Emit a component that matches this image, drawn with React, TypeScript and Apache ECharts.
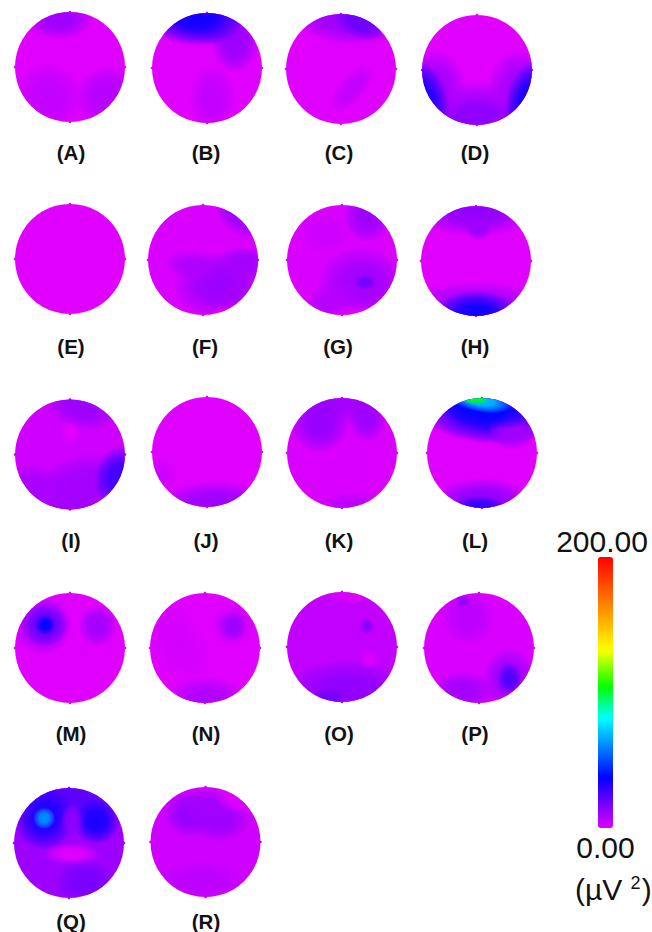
import React, { useEffect, useRef } from "react";
import * as echarts from "echarts";

const panelLabels = ["(A)","(B)","(C)","(D)","(E)","(F)","(G)","(H)","(I)","(J)","(K)","(L)","(M)","(N)","(O)","(P)","(Q)","(R)"];
// power at scalp position: each row is x, y (head units), spread x, spread y, rotation, µV²
const baseValues = [0,0,0,0,0,1,1,0,3,0,1,0,0,0,5,1,11,3];
const mapA = [[-0.2,0.88,0.62,0.38,0,11],[-0.4,-0.55,0.62,0.65,0,5],[0.65,-0.5,0.6,0.5,0.5,7]];
const mapB = [[0.2,0.8,0.9,0.42,-0.2,11],[0.5,0.42,0.42,0.5,0,11],[-0.25,1.0,0.95,0.6,-0.1,35],[0.1,-0.55,0.42,0.62,0,5]];
const mapC = [[0.05,0.9,1.0,0.45,-0.15,11],[0.35,0.85,0.5,0.3,-0.35,19],[0.2,-0.35,0.55,0.24,0.85,5]];
const mapD = [[0,-1.0,1.05,0.8,0,14],[-0.8,-0.25,0.6,0.6,0,10],[0.8,-0.25,0.6,0.6,0,10],[-1.0,-0.55,0.48,0.75,0.3,33],[1.0,-0.55,0.48,0.75,-0.3,35],[-0.15,0.3,0.25,0.25,0,0]];
const mapE = [] as number[][];
const mapF = [[0.3,-0.45,0.85,0.62,0,11],[0.75,-0.05,0.5,0.3,0,10],[-0.2,-0.1,0.5,0.28,-0.1,8],[0.7,0.85,0.55,0.4,-0.6,11],[0.5,-1.0,0.5,0.18,0,0]];
const mapG = [[0.35,-0.4,0.8,0.65,0,10],[-0.2,-0.75,0.5,0.35,0.5,7],[0.42,-0.4,0.2,0.14,0,18],[0.45,0.8,0.42,0.48,0,11],[-0.3,0.5,0.5,0.4,0,3],[0.25,-1.0,0.5,0.16,0,0]];
const mapH = [[0,0.95,1.15,0.5,0,13],[0.05,0.62,0.25,0.25,0,11],[0,-0.8,1.3,0.42,0,10],[0,-1.02,0.8,0.48,0,35]];
const mapI = [[0.2,0.85,0.65,0.38,-0.25,11],[0.2,-0.55,0.9,0.55,0.2,10],[-0.7,-0.65,0.6,0.5,0,9],[0.1,-1.0,0.7,0.35,0,10],[0.92,-0.42,0.48,0.58,-0.2,27],[0,0.4,0.2,0.2,0,0]];
const mapJ = [[0.15,-0.95,1.05,0.42,0,11],[-0.85,-0.4,0.3,0.3,0,3]];
const mapK = [[0,0.98,0.95,0.42,0,10],[-0.4,0.55,0.55,0.55,0,12],[0.45,0.65,0.36,0.45,0,11],[0.2,-1.0,0.7,0.3,0,6]];
const mapL = [[0.1,0.65,1.2,0.48,-0.08,30],[0.55,0.4,0.45,0.35,0,10],[-0.05,0.85,1.0,0.38,-0.2,38],[-0.05,0.97,0.6,0.22,-0.2,70],[-0.2,1.02,0.35,0.13,-0.2,104],[0,-0.95,0.95,0.5,0,14],[-0.05,-1.03,0.5,0.25,0,30]];
const mapM = [[-0.5,0.42,0.55,0.55,0,10],[-0.45,0.42,0.42,0.4,0,20],[-0.45,0.42,0.18,0.18,0,38],[0.5,0.4,0.35,0.38,0,10]];
const mapN = [[0.5,0.4,0.4,0.4,0,4],[0.5,0.4,0.26,0.26,0,11],[0,-0.95,0.72,0.45,0,8],[-0.5,0.1,0.5,0.9,0.5,2]];
const mapO = [[0.1,-0.8,1.15,0.58,0,13],[-0.25,-0.95,0.32,0.2,0,18],[0.45,0.38,0.14,0.14,0,14],[0.5,-0.22,0.18,0.18,0,1],[0.2,1.02,0.55,0.25,0,0]];
const mapP = [[0.55,-0.55,0.5,0.55,0,11],[0.55,-0.55,0.22,0.28,0,24],[-0.3,-0.8,0.6,0.38,0,10],[-0.2,0.55,0.5,0.5,0,6],[-0.3,0.85,0.14,0.12,0,12]];
const mapQ = [[0,0.85,1.0,0.45,0,22],[0.5,0.4,0.42,0.42,0,33],[-0.45,0.45,0.55,0.58,0,32],[-0.45,0.45,0.2,0.2,0,62],[0.05,-0.2,0.52,0.2,0,0],[0.05,0.4,0.2,0.32,0,14],[0.3,-0.7,0.55,0.4,0,17]];
const mapR = [[-0.3,0.5,0.45,0.42,0,12],[0.25,0.4,0.55,0.4,0,11],[0.05,0.65,0.55,0.3,0,10],[0.65,0.85,0.5,0.35,0,0],[-0.1,-0.7,0.8,0.35,0,6]];
const maps = [mapA,mapB,mapC,mapD,mapE,mapF,mapG,mapH,mapI,mapJ,mapK,mapL,mapM,mapN,mapO,mapP,mapQ,mapR];

const scaleMin = 0;
const scaleMax = 200;
const scaleStops = [0, 0.185, 0.406, 0.52, 0.657, 1];
const scaleColors = ["#e000ff", "#0000ff", "#00ffff", "#00ff00", "#ffff00", "#ff0000"];

// disc centres in pixels
const centresX = [70,207,341,477,70,203,342,476,70,207,342,482,70,205,342,479,69,205.5];
const centresY = [67,68,69,70,259,260,260,261,454.5,452,453,453,648,648,647,648,843,842];
const labelX = [71,206,339,475,71,205,338,475,71,206,339,475,71,206,339,475,71,206];
const labelY = [152,152,152,152,346,346,346,346,540,540,540,540,733,733,733,733,921,921];
const R = 55;

function buildPalette() {
  const out: string[] = [];
  const n = 80;
  for (let i = 0; i <= n; i++) {
    const t = i / n;
    let k = 0;
    while (k < scaleStops.length - 2 && t > scaleStops[k + 1]) k++;
    const f = (t - scaleStops[k]) / (scaleStops[k + 1] - scaleStops[k]);
    out.push(echarts.color.lerp(f, [scaleColors[k], scaleColors[k + 1]]) as string);
  }
  return out;
}

function renderBlob(params: any, api: any) {
  const c = api.coord([api.value(0), api.value(1)]);
  const unit = api.size([1, 1]);
  const color = api.visual("color");
  const cen = api.coord([0, 0]);
  const r = unit[0];
  if (params.dataIndex === 0) {
    const nub = (x: number, y: number) => ({
      type: "circle",
      shape: { cx: x, cy: y, r: 1.3 },
      style: { fill: color },
    });
    return {
      type: "group",
      children: [
        { type: "circle", shape: { cx: cen[0], cy: cen[1], r }, style: { fill: color } },
        nub(cen[0] - r, cen[1]),
        nub(cen[0] + r, cen[1]),
        nub(cen[0], cen[1] - r),
        nub(cen[0], cen[1] + r),
      ],
    };
  }
  return {
    type: "group",
    clipPath: { type: "circle", shape: { cx: cen[0], cy: cen[1], r } },
    children: [
      {
        type: "ellipse",
        x: c[0],
        y: c[1],
        rotation: api.value(4),
        shape: { cx: 0, cy: 0, rx: api.value(2) * unit[0], ry: api.value(3) * unit[1] },
        style: {
          fill: new echarts.graphic.RadialGradient(0.5, 0.5, 0.5, [
            { offset: 0, color: echarts.color.modifyAlpha(color, 1) },
            { offset: 0.45, color: echarts.color.modifyAlpha(color, 0.9) },
            { offset: 0.8, color: echarts.color.modifyAlpha(color, 0.4) },
            { offset: 1, color: echarts.color.modifyAlpha(color, 0) },
          ]),
        },
      },
    ],
  };
}

export default function App() {
  const ref = useRef<HTMLDivElement>(null);
  useEffect(() => {
    document.body.style.margin = "0";
    document.body.style.overflow = "hidden";
    const chart = echarts.init(ref.current!, undefined, { renderer: "svg" });
    const txt = (text: string, x: number, y: number, fontSize: number, fontWeight = "normal") => ({
      type: "text",
      x,
      y,
      style: { text, fontSize, fontWeight, fontFamily: "Liberation Sans", fill: "#111", align: "center", verticalAlign: "middle" },
    });
    chart.setOption({
      animation: false,
      backgroundColor: "#fff",
      grid: maps.map((_, i) => ({ left: centresX[i] - R, top: centresY[i] - R, width: 2 * R, height: 2 * R })),
      xAxis: maps.map((_, i) => ({ type: "value", gridIndex: i, min: -1, max: 1, show: false })),
      yAxis: maps.map((_, i) => ({ type: "value", gridIndex: i, min: -1, max: 1, show: false })),
      visualMap: {
        type: "continuous",
        min: scaleMin,
        max: scaleMax,
        dimension: 5,
        seriesIndex: maps.map((_, i) => i),
        left: 598,
        top: 557,
        itemWidth: 15,
        itemHeight: 271,
        padding: 0,
        calculable: false,
        realtime: false,
        text: ["", ""],
        inRange: { color: buildPalette() },
      },
      series: maps.map((m, i) => ({
        type: "custom",
        name: panelLabels[i],
        xAxisIndex: i,
        yAxisIndex: i,
        clip: false,
        silent: true,
        renderItem: renderBlob,
        dimensions: ["x", "y", "sx", "sy", "rot", "power"],
        encode: { x: 0, y: 1 },
        data: [[0, 0, 1, 1, 0, baseValues[i]], ...m],
      })),
      graphic: [
        ...panelLabels.map((l, i) => txt(l, labelX[i], labelY[i], 20.5, "bold")),
        txt("200.00", 602, 541, 30),
        txt("0.00", 605.5, 847, 30),
        {
          type: "text",
          x: 575,
          y: 889,
          style: {
            text: "{a|(µV }{b|2}{a|)}",
            fontFamily: "Liberation Sans",
            verticalAlign: "middle",
            rich: {
              a: { fontSize: 30, fontFamily: "Liberation Sans", fill: "#111" },
              b: { fontSize: 18, fontFamily: "Liberation Sans", fill: "#111", verticalAlign: "top", padding: [0, 1, 6, 0] },
            },
          },
        },
      ],
    });
    return () => chart.dispose();
  }, []);
  return <div ref={ref} style={{ width: 652, height: 932 }} />;
}
